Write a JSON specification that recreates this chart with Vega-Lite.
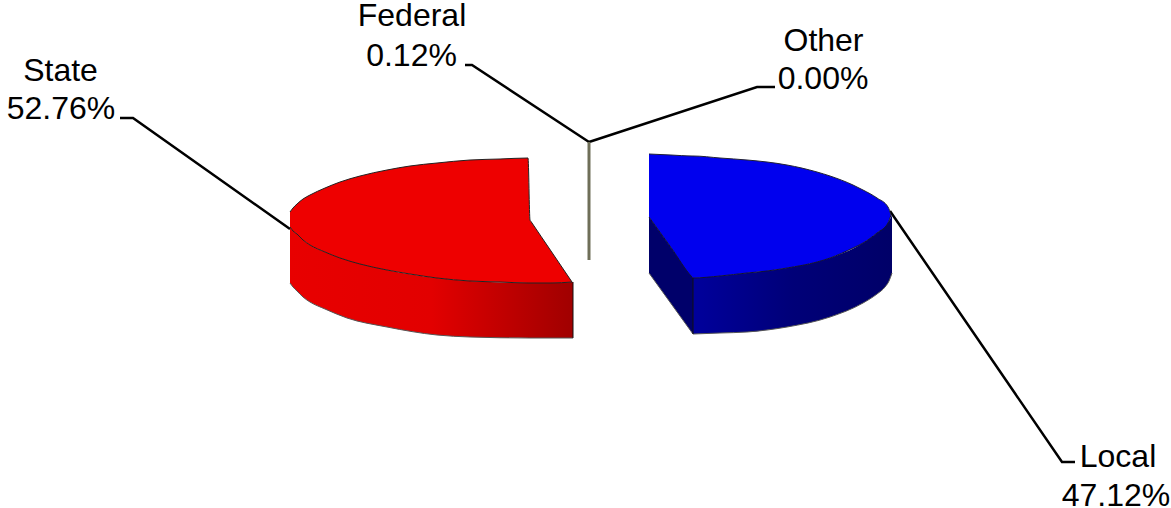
{"$schema":"https://vega.github.io/schema/vega-lite/v6.json","width":1171,"height":508,"autosize":{"type":"none"},"padding":0,"background":"white","view":{"stroke":null},
"datasets":{
"redTop":[{"x":290,"y":212,"y2":227},{"x":293,"y":208,"y2":231},{"x":297,"y":204,"y2":234},{"x":303,"y":199,"y2":240},{"x":310,"y":195,"y2":245},{"x":325,"y":188,"y2":252},{"x":340,"y":182,"y2":258},{"x":360,"y":176,"y2":264},{"x":387,"y":170,"y2":270},{"x":410,"y":166,"y2":274},{"x":437,"y":163,"y2":278},{"x":470,"y":160,"y2":281},{"x":500,"y":159,"y2":282},{"x":528,"y":158,"y2":283},{"x":530,"y":220,"y2":283},{"x":531,"y":221.5,"y2":283},{"x":551,"y":251,"y2":283},{"x":572,"y":282,"y2":282}],
"redSide":[{"x":290,"y":227,"y2":283},{"x":293,"y":231,"y2":287},{"x":297,"y":234,"y2":291},{"x":303,"y":240,"y2":297},{"x":310,"y":245,"y2":302},{"x":325,"y":252,"y2":309},{"x":347,"y":260,"y2":318},{"x":387,"y":270,"y2":327},{"x":437,"y":278,"y2":335},{"x":470,"y":281,"y2":337},{"x":530,"y":283,"y2":338},{"x":573,"y":282,"y2":338}],
"blueTop":[{"x":649,"y":154,"y2":217},{"x":671,"y":155,"y2":247.5},{"x":692,"y":156,"y2":277},{"x":693,"y":156,"y2":278},{"x":720,"y":158,"y2":276},{"x":747,"y":160,"y2":273},{"x":767,"y":162,"y2":271},{"x":787,"y":165,"y2":268},{"x":817,"y":172,"y2":262},{"x":830,"y":176,"y2":258},{"x":853,"y":185,"y2":248},{"x":863,"y":190,"y2":243},{"x":877,"y":198,"y2":233},{"x":888,"y":207,"y2":223},{"x":891,"y":215,"y2":215}],
"blueInner":[{"x":649,"y":217,"y2":273},{"x":693,"y":278,"y2":334}],
"blueSide":[{"x":693,"y":278,"y2":334},{"x":720,"y":276,"y2":333},{"x":747,"y":273,"y2":332},{"x":787,"y":268,"y2":327},{"x":830,"y":258,"y2":317},{"x":863,"y":243,"y2":303},{"x":877,"y":233,"y2":294},{"x":885,"y":226,"y2":287},{"x":889,"y":221,"y2":281},{"x":892,"y":215,"y2":273}],
"leaders":[{"name":"Federal","i":1,"x":465,"y":65},{"name":"Federal","i":2,"x":472,"y":65},{"name":"Federal","i":3,"x":589,"y":142},{"name":"Other","i":1,"x":775,"y":87},{"name":"Other","i":2,"x":757,"y":87},{"name":"Other","i":3,"x":589,"y":142},{"name":"State","i":1,"x":120,"y":118},{"name":"State","i":2,"x":133,"y":118},{"name":"State","i":3,"x":290,"y":229},{"name":"Local","i":1,"x":890,"y":211},{"name":"Local","i":2,"x":1062,"y":462},{"name":"Local","i":3,"x":1075,"y":462}],
"edges":[{"x":573,"y":282,"y2":338},{"x":693,"y":278,"y2":334}],
"federal":[{"x":589,"y":142,"y2":260}],
"labels":[{"text":"Federal","x":412,"y":16},{"text":"0.12%","x":411.5,"y":56},{"text":"Other","x":823.5,"y":41},{"text":"0.00%","x":823,"y":79},{"text":"State","x":60.5,"y":71},{"text":"52.76%","x":61,"y":109},{"text":"Local","x":1118,"y":457},{"text":"47.12%","x":1116,"y":496}]},
"encoding":{"x":{"field":"x","type":"quantitative","scale":{"domain":[0,1171],"nice":false,"zero":false},"axis":null},"y":{"field":"y","type":"quantitative","scale":{"domain":[508,0],"nice":false,"zero":false},"axis":null}},
"layer":[
{"data":{"name":"leaders"},"mark":{"type":"line","color":"black","strokeWidth":2.5},"encoding":{"detail":{"field":"name"},"order":{"field":"i"}}},
{"data":{"name":"federal"},"mark":{"type":"rule","color":"#6f6f58","strokeWidth":3},"encoding":{"y2":{"field":"y2"}}},
{"data":{"name":"redSide"},"mark":{"type":"area","interpolate":"monotone","color":{"gradient":"linear","x1":0,"x2":1,"y1":0,"y2":0,"stops":[{"offset":0,"color":"#e80000"},{"offset":0.5,"color":"#e20000"},{"offset":1,"color":"#a00000"}]}},"encoding":{"y2":{"field":"y2"}}},
{"data":{"name":"redTop"},"mark":{"type":"area","interpolate":"monotone","color":"#ee0000"},"encoding":{"y2":{"field":"y2"}}},
{"data":{"name":"redTop"},"mark":{"type":"line","interpolate":"monotone","color":"#222222","strokeWidth":1}},
{"data":{"name":"redTop"},"mark":{"type":"line","interpolate":"monotone","color":"#222222","strokeWidth":1},"encoding":{"y":{"field":"y2","type":"quantitative"}}},
{"data":{"name":"redSide"},"mark":{"type":"line","interpolate":"monotone","color":"#555555","strokeWidth":1},"encoding":{"y":{"field":"y2","type":"quantitative"}}},
{"data":{"name":"blueInner"},"mark":{"type":"area","color":"#00006a"},"encoding":{"y2":{"field":"y2"}}},
{"data":{"name":"blueSide"},"mark":{"type":"area","interpolate":"monotone","color":{"gradient":"linear","x1":0,"x2":1,"y1":0,"y2":0,"stops":[{"offset":0,"color":"#00009c"},{"offset":0.5,"color":"#000078"},{"offset":1,"color":"#000068"}]}},"encoding":{"y2":{"field":"y2"}}},
{"data":{"name":"blueTop"},"mark":{"type":"area","interpolate":"monotone","color":"#0000ee"},"encoding":{"y2":{"field":"y2"}}},
{"data":{"name":"blueTop"},"mark":{"type":"line","interpolate":"monotone","color":"#222233","strokeWidth":1}},
{"data":{"name":"blueTop"},"mark":{"type":"line","interpolate":"monotone","color":"#111133","strokeWidth":1},"encoding":{"y":{"field":"y2","type":"quantitative"}}},
{"data":{"name":"blueSide"},"mark":{"type":"line","interpolate":"monotone","color":"#555555","strokeWidth":1},"encoding":{"y":{"field":"y2","type":"quantitative"}}},
{"data":{"name":"blueInner"},"mark":{"type":"line","color":"#555555","strokeWidth":1},"encoding":{"y":{"field":"y2","type":"quantitative"}}},
{"data":{"name":"edges"},"mark":{"type":"rule","color":"#111111","strokeWidth":1},"encoding":{"y2":{"field":"y2"}}},
{"data":{"name":"labels"},"mark":{"type":"text","font":"Liberation Sans","fontSize":32,"color":"black","align":"center","baseline":"middle"},"encoding":{"text":{"field":"text","type":"nominal"}}}
]}
